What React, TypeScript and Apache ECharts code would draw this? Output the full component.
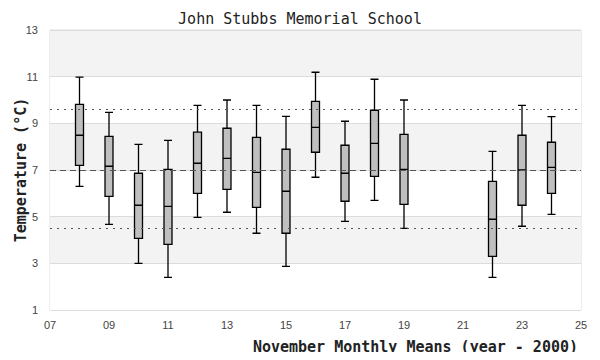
import React, { useEffect, useRef } from "react";
import * as echarts from "echarts";

const years = [8, 9, 10, 11, 12, 13, 14, 15, 16, 17, 18, 19, 22, 23, 24];
const mins = [6.3, 4.67, 3.0, 2.4, 4.97, 5.19, 4.29, 2.87, 6.69, 4.8, 5.7, 4.5, 2.4, 4.59, 5.1];
const q1s = [7.2, 5.87, 4.07, 3.81, 6.0, 6.17, 5.4, 4.29, 7.76, 5.66, 6.73, 5.53, 3.3, 5.49, 6.0];
const medians = [8.49, 7.16, 5.49, 5.44, 7.29, 7.5, 6.9, 6.09, 8.83, 6.86, 8.14, 7.03, 4.89, 7.0, 7.11];
const q3s = [9.81, 8.44, 6.86, 7.03, 8.62, 8.79, 8.4, 7.89, 9.94, 8.06, 9.56, 8.53, 6.51, 8.49, 8.19];
const maxs = [10.98, 9.47, 8.1, 8.27, 9.77, 10.0, 9.77, 9.3, 11.19, 9.09, 10.89, 10.0, 7.8, 9.77, 9.29];
const meanLine = 7.0;
const upperLine = 9.6;
const lowerLine = 4.5;

const MONO = "'DejaVu Sans Mono', 'Liberation Mono', monospace";

export default function App() {
  const ref = useRef<HTMLDivElement>(null);
  useEffect(() => {
    if (!ref.current) return;
    const chart = echarts.init(ref.current, null, { renderer: "svg" });
    const data = years.map((y, i) => [y, mins[i], q1s[i], medians[i], q3s[i], maxs[i]]);
    chart.setOption({
      animation: false,
      title: {
        text: "John Stubbs Memorial School",
        left: "center",
        top: 6,
        textStyle: { fontFamily: MONO, fontSize: 15, fontWeight: "normal", color: "#222" },
      },
      grid: {
        left: 50,
        right: 19,
        top: 30,
        bottom: 50,
        show: true,
        borderColor: "#dcdcdc",
        borderWidth: 1,
        backgroundColor: "transparent",
        containLabel: false,
        outerBoundsMode: "none",
      },
      xAxis: {
        type: "value",
        min: 7,
        max: 25,
        interval: 2,
        name: "November Monthly Means (year - 2000)",
        nameLocation: "end",
        nameGap: 0,
        nameMoveOverlap: false,
        nameTextStyle: {
          fontFamily: MONO,
          fontSize: 15,
          fontWeight: "bold",
          color: "#222",
          align: "right",
          verticalAlign: "top",
          padding: [29, 3, 0, 0],
        },
        axisLine: { show: false },
        axisTick: { show: false },
        splitLine: { show: false },
        axisLabel: {
          color: "#444",
          fontSize: 11,
          margin: 9,
          formatter: (v: number) => (v < 10 ? "0" + v : String(v)),
        },
      },
      yAxis: {
        type: "value",
        min: 1,
        max: 13,
        interval: 2,
        name: "Temperature (°C)",
        nameLocation: "middle",
        nameGap: 22,
        nameMoveOverlap: false,
        nameTextStyle: { fontFamily: MONO, fontSize: 15, fontWeight: "bold", color: "#222" },
        axisLine: { show: false },
        axisTick: { show: false },
        axisLabel: { color: "#444", fontSize: 11, margin: 12 },
        splitLine: { show: true, lineStyle: { color: "#dcdcdc", width: 1 } },
        splitArea: { show: true, areaStyle: { color: ["#ffffff", "#f3f3f3"] } },
      },
      series: [
        {
          type: "boxplot",
          data,
          boxWidth: [8, 8],
          itemStyle: { color: "#bfbfbf", borderColor: "#000", borderWidth: 1.3 },
          markLine: {
            silent: true,
            symbol: "none",
            label: { show: false },
            data: [
              { yAxis: meanLine, lineStyle: { type: [6, 4], color: "#555", width: 1 } },
              { yAxis: upperLine, lineStyle: { type: [2, 5], color: "#555", width: 1 } },
              { yAxis: lowerLine, lineStyle: { type: [2, 5], color: "#555", width: 1 } },
            ],
          },
        },
      ],
    });
    return () => chart.dispose();
  }, []);
  return <div ref={ref} style={{ width: 600, height: 360, margin: -8 }} />;
}
